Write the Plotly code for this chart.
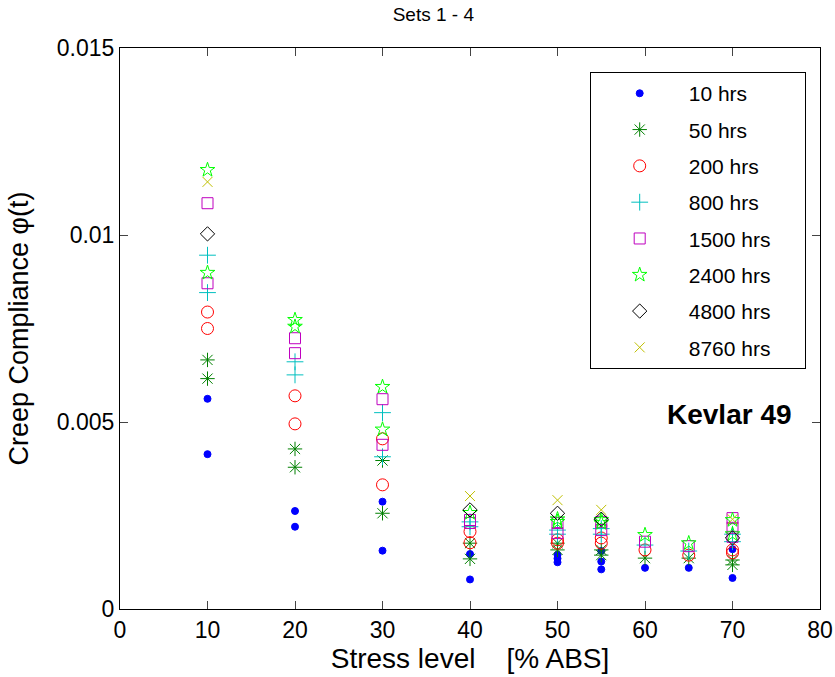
import plotly.graph_objects as go

# ---- data ----
x_10 = [10, 10, 20, 20, 30, 30, 40, 40, 50, 50, 50, 55, 55, 55, 60, 65, 70, 70]
y_10 = [0.00562, 0.00414, 0.00262, 0.00220, 0.00287, 0.00156, 0.00147, 0.00079, 0.00145, 0.00135, 0.00125,
        0.00155, 0.00127, 0.00106, 0.00110, 0.00110, 0.00160, 0.00083]

x_50 = [10, 10, 20, 20, 30, 30, 40, 40, 50, 50, 55, 55, 60, 65, 70, 70]
y_50 = [0.00666, 0.00616, 0.00428, 0.00379, 0.00397, 0.00256, 0.00176, 0.00134, 0.00176, 0.00158,
        0.00158, 0.00144, 0.00136, 0.00136, 0.00131, 0.00118]

x_200 = [10, 10, 20, 20, 30, 30, 40, 40, 50, 50, 55, 55, 60, 65, 70, 70]
y_200 = [0.00794, 0.00750, 0.00570, 0.00495, 0.00455, 0.00332, 0.00207, 0.00177, 0.00185, 0.00176,
         0.00190, 0.00176, 0.00158, 0.00144, 0.00158, 0.00150]

x_800 = [10, 10, 20, 20, 30, 30, 40, 40, 50, 50, 55, 55, 60, 65, 70, 70]
y_800 = [0.00946, 0.00846, 0.00661, 0.00626, 0.00525, 0.00407, 0.00233, 0.00220, 0.00211, 0.00200,
         0.00215, 0.00200, 0.00171, 0.00155, 0.00200, 0.00180]

x_1500 = [10, 10, 20, 20, 30, 30, 40, 40, 50, 50, 55, 55, 60, 65, 70, 70, 70]
y_1500 = [0.01085, 0.00871, 0.00724, 0.00684, 0.00561, 0.00439, 0.00238, 0.00230, 0.00230, 0.00203,
          0.00233, 0.00211, 0.00180, 0.00168, 0.00243, 0.00217, 0.00193]

x_2400 = [10, 10, 20, 20, 30, 30, 40, 50, 50, 55, 55, 60, 65, 70, 70]
y_2400 = [0.01174, 0.00899, 0.00773, 0.00755, 0.00594, 0.00480, 0.00257, 0.00233, 0.00240,
          0.00238, 0.00230, 0.00198, 0.00176, 0.00238, 0.00200]

x_4800 = [10, 40, 50, 55, 70]
y_4800 = [0.01003, 0.00265, 0.00256, 0.00240, 0.00190]

x_8760 = [10, 40, 50, 55, 70]
y_8760 = [0.01142, 0.00302, 0.00291, 0.00265, 0.00240]

x_ticks = [0, 10, 20, 30, 40, 50, 60, 70, 80]
y_ticks = [0, 0.005, 0.01, 0.015]
y_tick_labels = ["0", "0.005", "0.01", "0.015"]

series = [
    ("10 hrs", x_10, y_10, "circle", "#0000ff", 7),
    ("50 hrs", x_50, y_50, "asterisk-open", "#008000", 12),
    ("200 hrs", x_200, y_200, "circle-open", "#ff0000", 12),
    ("800 hrs", x_800, y_800, "cross-thin-open", "#00bfbf", 12),
    ("1500 hrs", x_1500, y_1500, "square-open", "#bf00bf", 11),
    ("2400 hrs", x_2400, y_2400, "star-open", "#00ff00", 11),
    ("4800 hrs", x_4800, y_4800, "diamond-open", "#000000", 11),
    ("8760 hrs", x_8760, y_8760, "x-thin-open", "#bfbf00", 10),
]

pad = "\u00a0" * 5
fig = go.Figure()
for i, (name, xs, ys, sym, col, sz) in enumerate(series):
    fig.add_trace(go.Scatter(
        x=xs, y=ys, mode="markers", name=name + pad, legendgroup="g%d" % i,
        marker=dict(symbol=sym, color=col, size=sz, line=dict(color=col, width=1)),
    ))

fig.update_layout(
    width=835, height=677,
    paper_bgcolor="white", plot_bgcolor="white",
    margin=dict(l=120, r=15, t=48, b=68),
    font=dict(family="Liberation Sans, Arial", color="black", size=22),
    title=dict(text="Sets 1 - 4", x=0.519, xanchor="center", y=0.979, yanchor="middle",
               font=dict(size=19)),
    legend=dict(x=0.671, y=0.957, xanchor="left", yanchor="top",
                bordercolor="black", borderwidth=1, bgcolor="white",
                font=dict(size=21), tracegroupgap=6, itemwidth=88),
    annotations=[dict(x=69.6, y=0.0052, xref="x", yref="y", text="<b>Kevlar 49</b>",
                      showarrow=False, font=dict(size=28))],
)
fig.update_xaxes(range=[0, 80], tickvals=x_ticks, ticks="inside", ticklen=8, showline=True,
                 linecolor="black", linewidth=1, mirror="ticks", showgrid=False, zeroline=False,
                 automargin=False, tickfont=dict(size=23),
                 title=dict(text="Stress level\u00a0\u00a0\u00a0\u00a0[% ABS]", font=dict(size=28), standoff=4))
fig.update_yaxes(range=[0, 0.015], tickvals=y_ticks, ticktext=y_tick_labels,
                 ticks="inside", ticklen=8, showline=True,
                 linecolor="black", linewidth=1, mirror="ticks", showgrid=False, zeroline=False,
                 automargin=False, tickfont=dict(size=23),
                 title=dict(text="Creep Compliance \u03c6(t)", font=dict(size=27), standoff=20))

fig.write_html("out.html", post_script="document.body.style.margin='0';",
               config={"displayModeBar": False})
